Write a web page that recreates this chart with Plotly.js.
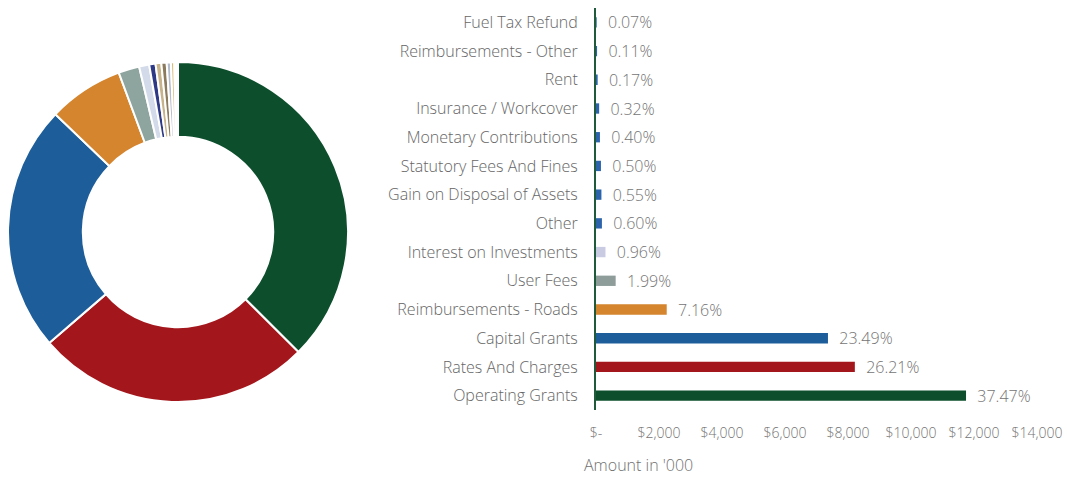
<!DOCTYPE html>
<html>
<head>
<meta charset="utf-8">
<script src="https://cdn.plot.ly/plotly-3.0.1.min.js"></script>
<style>html,body{margin:0;padding:0;background:#fff;}#chart{width:1067px;height:478px;}</style>
</head>
<body>
<div id="chart"></div>
<script>
// Data (amounts in '000), ordered largest to smallest
const categories = ["Operating Grants","Rates And Charges","Capital Grants","Reimbursements - Roads","User Fees","Interest on Investments","Other","Gain on Disposal of Assets","Statutory Fees And Fines","Monetary Contributions","Insurance / Workcover","Rent","Reimbursements - Other","Fuel Tax Refund"];
const amounts = [11747, 8217, 7364, 2245, 624, 301, 188, 172, 157, 125, 100, 53, 34, 22];
const pctLabels = ["37.47%","26.21%","23.49%","7.16%","1.99%","0.96%","0.60%","0.55%","0.50%","0.40%","0.32%","0.17%","0.11%","0.07%"];
const tickValues = [0, 2000, 4000, 6000, 8000, 10000, 12000, 14000];
const tickLabels = ["$-","$2,000","$4,000","$6,000","$8,000","$10,000","$12,000","$14,000"];
const pieColors = ["#0d4f2d","#a3161b","#1d5e9a","#d4852d","#8ea49e","#d3dbea","#2f3a86","#c8b48c","#8c7a5c","#b4bccb","#d9bc7c","#7c8c9c","#c6a262","#555555"];
const barColors = ["#0d4f2d","#a3161b","#1d5e9a","#d4852d","#8e9c9a","#c9cbe2","#2c63aa","#2c63aa","#2c63aa","#2c63aa","#2c63aa","#2c63aa","#2c63aa","#2c63aa"];

const W = 1067, H = 478;
const px = v => v / W, py = v => 1 - v / H;
const font = "'Open Sans', sans-serif";

const pie = {
  type: "pie",
  labels: categories,
  values: amounts,
  sort: false,
  direction: "clockwise",
  rotation: 0,
  hole: 0.56,
  textinfo: "none",
  hoverinfo: "label+value+percent",
  marker: {colors: pieColors, line: {color: "#ffffff", width: 2}},
  domain: {x: [px(8), px(348)], y: [py(402), py(62)]},
  showlegend: false
};

const bar = {
  type: "bar",
  orientation: "h",
  y: categories,
  x: amounts,
  width: 0.36,
  marker: {color: barColors},
  text: pctLabels.map(t => "\u00a0\u00a0" + t),
  textposition: "outside",
  constraintext: "none",
  cliponaxis: false,
  textfont: {family: font, size: 16, weight: 300, color: "#747474"},
  hoverinfo: "y+x",
  xaxis: "x",
  yaxis: "y",
  showlegend: false
};

const layout = {
  width: W, height: H,
  margin: {l: 0, r: 0, t: 0, b: 0},
  paper_bgcolor: "#ffffff",
  plot_bgcolor: "#ffffff",
  font: {family: font, color: "#5a5a5a"},
  xaxis: {
    domain: [px(596), px(1037)],
    range: [0, 14000],
    tickvals: tickValues,
    ticktext: tickLabels,
    showgrid: false,
    zeroline: false,
    showline: false,
    ticks: "",
    ticklabelstandoff: 13,
    tickfont: {family: font, size: 14, weight: 300, color: "#747474"},
    anchor: "y",
    fixedrange: true
  },
  yaxis: {
    domain: [py(410), py(8)],
    type: "category",
    categoryorder: "array",
    categoryarray: categories,
    range: [-0.5, 13.5],
    showgrid: false,
    zeroline: false,
    showline: true,
    linecolor: "#1f5a3a",
    linewidth: 2,
    ticks: "",
    ticklabelstandoff: 13,
    tickfont: {family: font, size: 16, weight: 300, color: "#666666"},
    anchor: "x",
    fixedrange: true
  },
  annotations: [{
    text: "Amount in '000",
    xref: "paper", yref: "paper",
    x: px(582), y: py(465),
    xanchor: "left", yanchor: "middle",
    showarrow: false,
    font: {family: font, size: 16, weight: 300, color: "#707070"}
  }]
};

Plotly.newPlot("chart", [pie, bar], layout, {displayModeBar: false, staticPlot: true});
</script>
</body>
</html>
